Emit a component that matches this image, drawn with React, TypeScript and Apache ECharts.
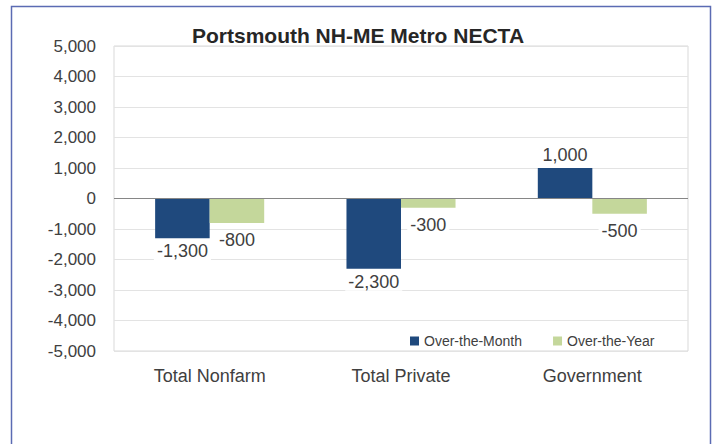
import React, { useEffect, useRef } from "react";
import * as echarts from "echarts";

const categories = ["Total Nonfarm", "Total Private", "Government"];
const overTheMonth = [-1300, -2300, 1000];
const overTheYear = [-800, -300, -500];
const seriesNames = ["Over-the-Month", "Over-the-Year"];
const yTicks = { min: -5000, max: 5000, interval: 1000 };
const titleText = "Portsmouth NH-ME Metro NECTA";

const FONT = "'Liberation Sans', Arial, sans-serif";
const TEXT = "#404040";

const fmt = (v: number) => v.toLocaleString("en-US");

function toData(values: number[], distance: number) {
  return values.map((v) => ({
    value: v,
    label: {
      show: true,
      position: v < 0 ? "bottom" : "top",
      distance,
      formatter: (p: any) => fmt(p.value),
      fontSize: 18,
      fontFamily: FONT,
      color: TEXT,
      backgroundColor: "#ffffff",
      padding: [0, 3],
    },
  }));
}

export default function App() {
  const ref = useRef<HTMLDivElement>(null);
  useEffect(() => {
    if (!ref.current) return;
    const chart = echarts.init(ref.current, undefined, { renderer: "svg" });
    chart.setOption({
      animation: false,
      backgroundColor: "#ffffff",
      textStyle: { fontFamily: FONT },
      title: {
        text: titleText,
        left: 353,
        textAlign: "center",
        top: 20,
        textStyle: { fontSize: 21, fontWeight: "bold", color: "#262626", fontFamily: FONT },
      },
      graphic: [
        {
          type: "rect",
          shape: { x: 11.5, y: 6.5, width: 699, height: 500 },
          style: { fill: "none", stroke: "#5b6bb3", lineWidth: 1.5 },
          silent: true,
          z: 100,
        },
      ],
      legend: {
        data: seriesNames,
        left: 405,
        top: 329,
        icon: "rect",
        itemWidth: 9,
        itemHeight: 9,
        itemGap: 31,
        textStyle: { fontSize: 14, color: TEXT, fontFamily: FONT },
      },
      grid: {
        left: 114,
        right: 30,
        top: 46,
        bottom: 93,
        show: true,
        borderColor: "#d9d9d9",
        borderWidth: 1,
        containLabel: false,
      },
      xAxis: {
        type: "category",
        data: categories,
        axisLine: { show: false, onZero: false },
        axisTick: { show: false },
        axisLabel: { fontSize: 18, color: TEXT, margin: 16, fontFamily: FONT },
        splitLine: { show: false },
      },
      yAxis: {
        type: "value",
        min: yTicks.min,
        max: yTicks.max,
        interval: yTicks.interval,
        axisLine: { show: false },
        axisTick: { show: false },
        axisLabel: {
          fontSize: 17,
          color: TEXT,
          margin: 18,
          fontFamily: FONT,
          formatter: (v: number) => fmt(v),
        },
        splitLine: { lineStyle: { color: "#e3e3e3", width: 1 } },
      },
      series: [
        {
          name: seriesNames[0],
          type: "bar",
          data: toData(overTheMonth, 4),
          itemStyle: { color: "#1f497d" },
          barGap: "0%",
          barCategoryGap: "43%",
          markLine: {
            silent: true,
            symbol: ["none", "none"],
            label: { show: false },
            lineStyle: { color: "#868686", type: "solid", width: 1 },
            data: [{ yAxis: 0 }],
          },
        },
        {
          name: seriesNames[1],
          type: "bar",
          data: toData(overTheYear, 8),
          itemStyle: { color: "#c4d79b" },
          barGap: "0%",
          barCategoryGap: "43%",
        },
      ],
    });
    return () => chart.dispose();
  }, []);
  return (
    <div
      ref={ref}
      style={{ position: "absolute", left: 0, top: 0, width: 718, height: 444 }}
    />
  );
}
